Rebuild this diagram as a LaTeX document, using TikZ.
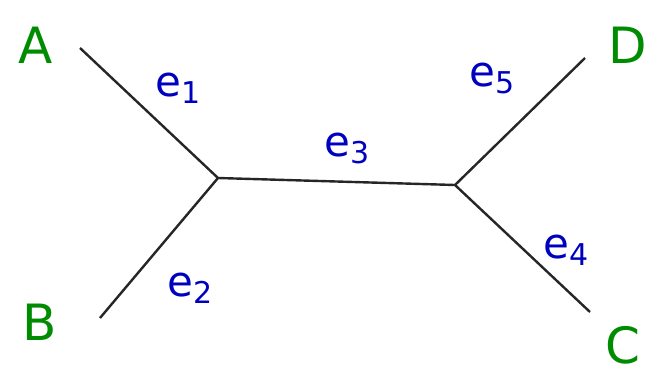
\documentclass[tikz,border=0pt]{standalone}
\usepackage{fontspec}
\setmainfont{DejaVu Sans}
\begin{document}
\begin{tikzpicture}[x=1pt,y=-1pt,
  edge/.style={line width=2.4pt,black!85},
  leaf/.style={text=green!55!black,font=\fontsize{50}{50}\selectfont},
  elab/.style={text=blue!75!black,font=\fontsize{42}{42}\selectfont}]
\useasboundingbox[fill=white] (0,0) rectangle (651,375);
\coordinate (a) at (80,48);
\coordinate (b) at (100,318);
\coordinate (c) at (590,312);
\coordinate (d) at (585,58);
\coordinate (u) at (218,178);
\coordinate (v) at (455,185);
\draw[edge] (a) -- (u) -- (b);
\draw[edge] (u) -- (v);
\draw[edge] (d) -- (v) -- (c);
\node[leaf] (la) at (36,45) {A};
\node[leaf] (lb) at (40,322) {B};
\node[leaf] (lc) at (623,345) {C};
\node[leaf] (ld) at (628,45) {D};
\node[elab] (e1) at (178,88) {e\raisebox{-7pt}{\fontsize{30}{30}\selectfont 1}};
\node[elab] (e2) at (190,288) {e\raisebox{-7pt}{\fontsize{30}{30}\selectfont 2}};
\node[elab] (e3) at (347,148) {e\raisebox{-7pt}{\fontsize{30}{30}\selectfont 3}};
\node[elab] (e4) at (566,250) {e\raisebox{-7pt}{\fontsize{30}{30}\selectfont 4}};
\node[elab] (e5) at (492,78) {e\raisebox{-7pt}{\fontsize{30}{30}\selectfont 5}};
\end{tikzpicture}
\end{document}
